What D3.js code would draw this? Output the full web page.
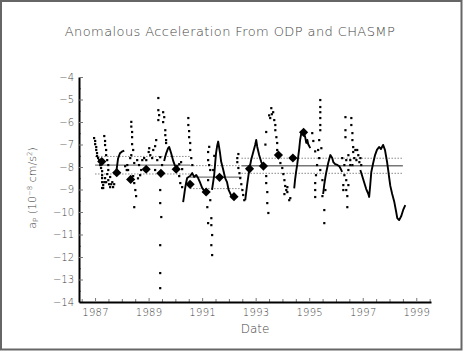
<!DOCTYPE html>
<html><head><meta charset="utf-8">
<script src="https://cdn.jsdelivr.net/npm/d3@7"></script>
<style>
html,body{margin:0;padding:0;background:#fff;}
svg{display:block;}
text{font-family:"DejaVu Sans",sans-serif;font-weight:200;}
</style></head>
<body><svg id="c" width="463" height="351"></svg>
<script>
const title = "Anomalous Acceleration From ODP and CHASMP";
const xLabel = "Date";
const yTicks = [-4,-5,-6,-7,-8,-9,-10,-11,-12,-13,-14];
const xTicks = [1987,1989,1991,1993,1995,1997,1999];

// CHASMP estimates (diamonds)
const chasmpYears  = [1987.25,1987.81,1988.33,1988.91,1989.46,1990.03,1990.55,1991.15,1991.65,1992.19,1992.77,1993.29,1993.85,1994.39,1994.79];
const chasmpValues = [-7.76,-8.25,-8.55,-8.10,-8.28,-8.10,-8.77,-9.11,-8.46,-9.32,-8.08,-7.96,-7.47,-7.60,-6.46];

// mean / sigma bands
const segStart = [1987.0, 1990.55, 1992.47];
const segEnd   = [1990.55, 1992.47, 1998.5];
const segMean  = [-7.92, -8.45, -7.945];
const segSigma = [0.39, 0.51, 0.335];

// ODP scattered points [year, value]
const odpDots = [
[1986.96,-6.71],[1987.00,-6.84],[1987.00,-6.98],[1987.04,-7.11],[1987.04,-7.24],[1987.07,-7.38],[1987.07,-7.51],[1987.11,-7.60],[1987.15,-7.69],[1987.19,-7.91],[1987.22,-8.04],[1987.26,-8.18],[1987.26,-8.36],[1987.26,-8.49],[1987.26,-8.67],[1987.30,-8.80],[1987.26,-8.93],
[1987.34,-6.62],[1987.37,-6.84],[1987.37,-7.02],[1987.41,-7.24],[1987.41,-7.47],[1987.45,-7.69],[1987.49,-7.91],[1987.49,-8.13],[1987.45,-8.31],[1987.37,-8.49],[1987.41,-8.67],[1987.49,-8.58],[1987.52,-8.76],[1987.56,-8.89],[1987.60,-8.76],[1987.64,-8.67],[1987.67,-8.89],[1987.71,-8.76],[1987.56,-8.44],[1987.34,-8.67],[1987.30,-8.93],
[1988.12,-7.96],[1988.18,-8.13],[1988.20,-7.91],[1988.23,-8.13],[1988.31,-7.60],
[1988.35,-5.99],[1988.35,-6.20],[1988.38,-6.44],[1988.38,-6.67],[1988.38,-6.98],[1988.42,-7.24],[1988.35,-7.47],[1988.46,-7.82],[1988.42,-8.40],[1988.46,-8.71],[1988.50,-9.02],[1988.53,-9.29],[1988.46,-9.78],
[1988.57,-7.69],[1988.64,-7.91],[1988.72,-8.13],[1988.76,-7.69],[1988.83,-7.60],[1988.68,-8.36],[1988.60,-8.50],
[1988.91,-7.69],[1989.00,-7.33],[1989.02,-7.16],[1989.06,-7.47],[1989.13,-7.60],[1989.17,-7.24],[1989.24,-7.07],[1989.28,-6.80],
[1989.36,-4.93],[1989.36,-5.47],[1989.39,-5.69],[1989.36,-5.91],[1989.54,-5.56],[1989.58,-5.78],[1989.54,-6.00],[1989.62,-6.36],[1989.62,-6.58],[1989.65,-6.80],[1989.65,-6.93],
[1989.43,-7.56],[1989.43,-9.02],[1989.43,-9.60],[1989.47,-10.22],[1989.43,-11.47],[1989.43,-12.71],[1989.43,-13.38],
[1989.50,-7.91],[1989.32,-7.69],[1989.24,-8.13],
[1990.07,-7.96],[1990.14,-7.87],[1990.21,-7.78],[1990.25,-8.09],
[1990.48,-5.82],[1990.48,-6.13],[1990.51,-6.40],[1990.51,-6.67],[1990.55,-6.93],[1990.55,-7.24],[1990.59,-7.60],[1990.63,-7.91],
[1990.18,-8.71],[1990.25,-8.89],[1990.14,-8.40],
[1991.22,-7.33],[1991.22,-7.69],[1991.26,-7.91],[1991.30,-8.13],[1991.22,-8.58],[1991.19,-9.78],[1991.30,-9.47],[1991.34,-10.27],[1991.34,-10.58],[1991.37,-11.02],[1991.34,-11.47],[1991.37,-11.91],[1991.22,-10.49],
[1991.26,-7.10],[1991.45,-7.50],[1991.41,-8.13],
[1992.31,-7.60],[1992.31,-7.78],[1992.35,-8.04],[1992.39,-8.27],[1992.42,-8.49],[1992.46,-8.76],[1992.50,-9.02],[1992.53,-9.24],[1992.57,-9.47],[1992.35,-7.42],
[1993.39,-6.44],[1993.36,-7.00],
[1993.39,-8.71],[1993.43,-9.11],[1993.43,-9.60],[1993.47,-10.04],[1993.36,-7.96],[1993.39,-8.40],
[1993.58,-5.38],[1993.54,-5.82],[1993.65,-5.56],[1993.69,-5.91],[1993.73,-6.13],[1993.73,-6.36],[1993.77,-6.67],[1993.80,-6.93],[1993.80,-7.24],[1993.84,-7.56],[1993.50,-5.70],[1993.60,-5.65],
[1993.92,-7.82],[1993.99,-8.04],[1994.03,-8.31],[1994.07,-8.58],[1994.10,-8.84],[1994.14,-9.02],[1994.07,-9.20],[1994.18,-9.11],[1994.25,-9.47],[1994.18,-8.89],[1994.29,-9.38],
[1995.11,-6.49],[1995.15,-6.84],[1995.22,-7.30],
[1995.41,-5.02],[1995.41,-5.33],[1995.41,-5.56],[1995.41,-5.82],[1995.41,-6.13],[1995.41,-6.36],[1995.37,-6.80],[1995.33,-7.24],[1995.37,-7.60],[1995.29,-7.91],[1995.25,-8.36],[1995.22,-8.71],[1995.22,-9.02],[1995.22,-9.33],[1995.45,-7.16],[1995.41,-8.13],[1995.49,-8.58],[1995.60,-9.02],[1995.49,-9.29],[1995.56,-9.91],[1995.56,-10.49],
[1996.27,-9.02],[1996.27,-8.80],[1996.35,-5.78],[1996.35,-6.36],[1996.35,-6.67],[1996.42,-9.29],[1996.42,-9.78],[1996.38,-9.02],[1996.46,-8.80],[1996.57,-5.82],[1996.57,-6.13],[1996.61,-6.49],[1996.61,-6.80],[1996.64,-7.11],[1996.64,-7.33],[1996.68,-7.60],[1996.72,-7.24],[1996.79,-7.24],[1996.83,-7.47],[1996.91,-7.60],[1996.94,-7.91],[1996.87,-7.78],[1996.76,-7.69],[1996.53,-7.91],[1996.46,-8.13],[1996.23,-7.60],[1996.31,-7.91],[1996.38,-7.69],[1996.46,-7.47],[1996.53,-7.69],[1996.61,-7.91],[1996.31,-8.36],[1996.38,-8.58]
];

// dense ODP runs (drawn as connected tracks)
const odpTracks = [
[[1987.79,-8.25],[1987.86,-7.62],[1987.93,-7.39],[1988.00,-7.32],[1988.09,-7.27]],
[[1989.58,-7.73],[1989.65,-7.42],[1989.73,-7.16],[1989.77,-7.11],[1989.84,-7.38],[1989.92,-7.73],[1989.99,-7.96]],
[[1990.29,-9.56],[1990.33,-9.24],[1990.36,-8.98],[1990.40,-8.71],[1990.44,-8.49],[1990.55,-8.40],[1990.63,-8.27],[1990.70,-8.44],[1990.78,-8.36],[1990.85,-8.49],[1990.93,-8.71],[1991.00,-8.93],[1991.11,-9.11]],
[[1991.37,-9.02],[1991.45,-8.36],[1991.49,-7.78],[1991.52,-7.38],[1991.56,-7.07],[1991.60,-6.87],[1991.67,-7.39],[1991.71,-7.76],[1991.79,-8.13],[1991.86,-8.49],[1991.93,-8.67],[1991.99,-9.02],[1992.11,-9.33]],
[[1992.61,-9.47],[1992.68,-8.80],[1992.76,-8.13],[1992.83,-7.69],[1992.91,-7.33],[1992.98,-7.02],[1993.02,-6.80],[1993.06,-7.11],[1993.13,-7.47],[1993.21,-7.78],[1993.28,-7.96]],
[[1994.44,-8.95],[1994.47,-8.58],[1994.51,-8.22],[1994.55,-7.91],[1994.59,-7.54],[1994.63,-7.16],[1994.66,-6.80],[1994.70,-6.53],[1994.78,-6.44],[1994.85,-6.67],[1994.89,-6.93],[1994.93,-6.80],[1994.96,-6.98],[1995.04,-7.16]],
[[1995.52,-9.20],[1995.56,-8.80],[1995.60,-8.49],[1995.64,-8.22],[1995.71,-7.82],[1995.79,-7.47],[1995.86,-7.60],[1995.90,-7.78],[1995.97,-7.87],[1996.05,-7.91],[1996.12,-7.96],[1996.16,-8.04],[1996.23,-8.22]],
[[1996.91,-8.13],[1996.98,-8.40],[1997.06,-8.71],[1997.13,-8.98],[1997.21,-9.20],[1997.24,-9.33],[1997.28,-8.80],[1997.32,-8.22],[1997.39,-7.82],[1997.46,-7.47],[1997.53,-7.24],[1997.61,-7.11],[1997.68,-7.20],[1997.76,-7.02],[1997.83,-7.24],
 [1997.87,-7.51],[1997.91,-7.78],[1997.95,-8.13],[1997.99,-8.49],[1998.03,-8.84],[1998.10,-9.20],[1998.18,-9.56],[1998.25,-10.00],[1998.29,-10.27],[1998.36,-10.36],[1998.44,-10.18],[1998.51,-9.91],[1998.59,-9.69]]
];

const svg = d3.select("#c");
svg.append("rect").attr("x",1).attr("y",1).attr("width",460.5).attr("height",348.5)
  .attr("fill","#fff").attr("stroke","#666").attr("stroke-width",2);

const x = d3.scaleLinear().domain([1986.4, 1999.55]).range([79, 431]);
const y = d3.scaleLinear().domain([-4, -14]).range([77, 302]);

svg.append("text").attr("x",230).attr("y",36).attr("text-anchor","middle")
  .attr("font-size",13).attr("fill","#444").attr("letter-spacing",0.4).text(title);

// minor ticks
const yMinor = d3.range(-4.5, -14, -1);
svg.append("g").attr("transform","translate(79,0)")
  .call(d3.axisLeft(y).tickValues(yMinor).tickSizeInner(-2).tickSizeOuter(0).tickFormat(""))
  .call(g=>g.select(".domain").remove()).selectAll("line").attr("stroke","#777");
const xMinor = d3.range(1986.5, 1999.6, 0.5).filter(v=>!xTicks.includes(v));
svg.append("g").attr("transform","translate(0,302)")
  .call(d3.axisBottom(x).tickValues(xMinor).tickSizeInner(-3).tickSizeOuter(0).tickFormat(""))
  .call(g=>g.select(".domain").remove()).selectAll("line").attr("stroke","#777");

const ya = svg.append("g").attr("transform","translate(79,0)")
  .call(d3.axisLeft(y).tickValues(yTicks).tickSizeInner(-4).tickSizeOuter(0).tickPadding(5));
ya.select(".domain").attr("stroke","#000").attr("stroke-width",2);
ya.selectAll(".tick line").attr("stroke","#777");
ya.selectAll("text").attr("font-size",10).attr("fill","#444").style("font-family","DejaVu Sans").style("font-weight",200);

const xa = svg.append("g").attr("transform","translate(0,302)")
  .call(d3.axisBottom(x).tickValues(xTicks).tickSizeInner(-4).tickSizeOuter(0).tickPadding(7).tickFormat(d3.format("d")));
xa.select(".domain").attr("stroke","#000").attr("stroke-width",2);
xa.selectAll(".tick line").attr("stroke","#777");
xa.selectAll("text").attr("font-size",10).attr("fill","#444").attr("letter-spacing",0.3).style("font-family","DejaVu Sans").style("font-weight",200);

svg.append("text").attr("x",255).attr("y",333).attr("text-anchor","middle")
  .attr("font-size",12).attr("fill","#444").text(xLabel);

const yl = svg.append("text").attr("transform","translate(36,188) rotate(-90)")
  .attr("text-anchor","middle").attr("font-size",11).attr("fill","#444");
yl.append("tspan").text("a");
yl.append("tspan").attr("font-size",7).attr("dy",2).text("P");
yl.append("tspan").attr("dy",-2).text(" (10");
yl.append("tspan").attr("font-size",7).attr("dy",-4).text("−8");
yl.append("tspan").attr("dy",4).text(" cm/s");
yl.append("tspan").attr("font-size",7).attr("dy",-4).text("2");
yl.append("tspan").attr("dy",4).text(")");

// mean and sigma lines
const segs = segStart.map((s,i)=>({s, e:segEnd[i], m:segMean[i], sd:segSigma[i]}));
const band = svg.append("g");
segs.forEach(d=>{
  band.append("line").attr("x1",x(d.s)).attr("x2",x(d.e)).attr("y1",y(d.m)).attr("y2",y(d.m))
    .attr("stroke","#777").attr("stroke-width",1.3);
  [d.m+d.sd, d.m-d.sd].forEach(v=>{
    band.append("line").attr("x1",x(d.s)).attr("x2",x(d.e)).attr("y1",y(v)).attr("y2",y(v))
      .attr("stroke","#888").attr("stroke-width",1).attr("stroke-dasharray","1.5,1.5");
  });
});

// ODP tracks
const line = d3.line().x(d=>x(d[0])).y(d=>y(d[1]));
svg.append("g").selectAll("path").data(odpTracks).join("path")
  .attr("d", line).attr("fill","none").attr("stroke","#000").attr("stroke-width",1.9)
  .attr("stroke-linejoin","round");

// ODP dots
svg.append("g").selectAll("rect").data(odpDots).join("rect")
  .attr("x", d=>x(d[0])-1).attr("y", d=>y(d[1])-1).attr("width",2.2).attr("height",2.2).attr("fill","#000");

// CHASMP diamonds
const chasmp = chasmpYears.map((t,i)=>({t, v:chasmpValues[i]}));
svg.append("g").selectAll("path").data(chasmp).join("path")
  .attr("transform", d=>`translate(${x(d.t)},${y(d.v)}) rotate(45)`)
  .attr("d", d3.symbol(d3.symbolSquare, 42)).attr("fill","#000");
</script></body></html>
